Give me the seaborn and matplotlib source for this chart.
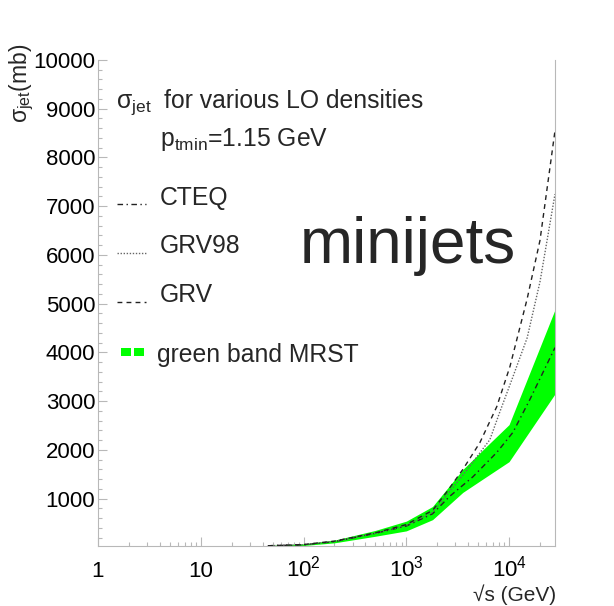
import matplotlib
matplotlib.use("Agg")
import matplotlib.pyplot as plt
import matplotlib.ticker as mticker
from matplotlib.lines import Line2D
from matplotlib.patches import Rectangle
import seaborn as sns
import pandas as pd

# ---------------- data ----------------
sqrt_s_band = [45, 100, 200, 500, 1000, 1800, 3550, 6000, 10000, 28000]
mrst_upper = [40, 75, 150, 350, 540, 840, 1600, 2070, 2520, 4880]
mrst_lower = [30, 40, 95, 230, 340, 570, 1130, 1450, 1760, 3150]

cteq_s = [45, 100, 200, 500, 1000, 1800, 2650, 4450, 7600, 10900, 15900, 28000]
cteq = [35, 55, 120, 290, 440, 690, 1050, 1450, 1950, 2360, 3030, 4100]

grv_s = [45, 100, 200, 500, 1000, 1800, 2460, 3550, 5200, 7600, 10200, 15000, 20000, 28000]
grv = [35, 60, 130, 300, 470, 760, 1130, 1600, 2150, 2890, 3710, 5100, 6300, 8550]

grv98_s = [45, 100, 200, 500, 1000, 1800, 3550, 6500, 8100, 10900, 15000, 20000, 28000]
grv98 = [35, 55, 125, 290, 450, 720, 1480, 2210, 2770, 3500, 4300, 5450, 7250]

series_names = ["CTEQ", "GRV98", "GRV"]
band_label = "green band MRST"

xtick_values = [1, 10, 100, 1000, 10000]
xtick_labels = ["1", "10", r"$\mathregular{10^{2}}$", r"$\mathregular{10^{3}}$",
                r"$\mathregular{10^{4}}$"]
ytick_values = [1000, 2000, 3000, 4000, 5000, 6000, 7000, 8000, 9000, 10000]
ytick_labels = [str(v) for v in ytick_values]

title_line1 = "for various LO densities"
title_sigma = r"σ$_{\mathregular{jet}}$"
title_line2 = r"p$_{\mathregular{tmin}}$=1.15 GeV"
big_label = "minijets"
ylabel = r"σ$_{\mathregular{jet}}$(mb)"
xlabel = "√s (GeV)"

# ---------------- style ----------------
sns.set_style("ticks")
plt.rcParams["font.family"] = ["Liberation Sans", "DejaVu Sans"]
plt.rcParams["mathtext.fontset"] = "custom"
plt.rcParams["mathtext.rm"] = "Liberation Sans"
plt.rcParams["mathtext.it"] = "Liberation Sans"
plt.rcParams["mathtext.bf"] = "Liberation Sans:bold"

W, H = 614, 606
fig = plt.figure(figsize=(W / 100, H / 100), dpi=100)
fig.patch.set_facecolor("white")

def fx(px):
    return px / W

def fy(py):
    return 1 - py / H

ax = fig.add_axes([fx(98), fy(546), (555 - 98) / W, (546 - 60) / H])
ax.set_facecolor("white")

frame_col = "#b8b8b8"

# band
ax.fill_between(sqrt_s_band, mrst_lower, mrst_upper, color="#00ff00", lw=0, zorder=2)

# lines via seaborn
df = pd.concat([
    pd.DataFrame({"sqrt_s": cteq_s, "sigma": cteq, "pdf": "CTEQ"}),
    pd.DataFrame({"sqrt_s": grv98_s, "sigma": grv98, "pdf": "GRV98"}),
    pd.DataFrame({"sqrt_s": grv_s, "sigma": grv, "pdf": "GRV"}),
], ignore_index=True)

dash_map = {"CTEQ": (4, 2.5, 1, 2.5), "GRV98": (1, 1.2), "GRV": (3.5, 3)}
color_map = {"CTEQ": "#222222", "GRV98": "#666666", "GRV": "#222222"}
sns.lineplot(data=df, x="sqrt_s", y="sigma", hue="pdf", style="pdf",
             palette=color_map, dashes=dash_map, lw=1.0, legend=False,
             ax=ax, zorder=3, sort=False, estimator=None)

ax.set_xscale("log")
ax.set_xlim(1, 28000)
ax.set_ylim(30, 10000)
ax.set_xlabel("")
ax.set_ylabel("")

ax.xaxis.set_major_locator(mticker.FixedLocator(xtick_values))
ax.xaxis.set_major_formatter(mticker.FixedFormatter(xtick_labels))
ax.xaxis.set_minor_locator(mticker.LogLocator(base=10, subs=range(2, 10), numticks=20))
ax.xaxis.set_minor_formatter(mticker.NullFormatter())
ax.yaxis.set_major_locator(mticker.FixedLocator(ytick_values))
ax.yaxis.set_major_formatter(mticker.FixedFormatter(ytick_labels))
ax.yaxis.set_minor_locator(mticker.MultipleLocator(200))

ax.tick_params(axis="both", which="both", direction="in", color=frame_col,
               width=0.8, labelcolor="black", labelsize=16)
ax.tick_params(axis="both", which="major", length=6.5)
ax.tick_params(axis="both", which="minor", length=3.2)
ax.tick_params(axis="x", which="major", pad=22)
ax.tick_params(axis="y", which="major", pad=2)
for t in ax.xaxis.get_major_ticks():
    t.label1.set_verticalalignment("baseline")

for side in ["left", "bottom", "right"]:
    ax.spines[side].set_color(frame_col)
    ax.spines[side].set_linewidth(0.8)
    ax.spines[side].set_visible(True)
ax.spines["top"].set_visible(False)

# ---------------- texts ----------------
fs = 17.8
fig.text(fx(116), fy(108), title_sigma, fontsize=fs, va="baseline", ha="left")
fig.text(fx(164), fy(108), title_line1, fontsize=fs, va="baseline", ha="left")
fig.text(fx(160), fy(146), title_line2, fontsize=fs, va="baseline", ha="left")

# legend (keys + labels)
key_y = {"CTEQ": 204, "GRV98": 253, "GRV": 302}
lab_y = {"CTEQ": 205, "GRV98": 253, "GRV": 302}
for name in series_names:
    ln = Line2D([fx(117), fx(146)], [fy(key_y[name]), fy(key_y[name])],
                transform=fig.transFigure, color=color_map[name], lw=1.0)
    ln.set_dashes(dash_map[name])
    fig.add_artist(ln)
    fig.text(fx(160), fy(lab_y[name]), name, fontsize=fs, va="baseline", ha="left")

for x0 in (121, 134):
    fig.add_artist(Rectangle((fx(x0), fy(356)), 10 / W, 8 / H,
                             transform=fig.transFigure, color="#00ff00", lw=0))
fig.text(fx(157), fy(362), band_label, fontsize=fs, va="baseline", ha="left")

fig.text(fx(300), fy(263), big_label, fontsize=46, va="baseline", ha="left")

# axis titles
fig.text(fx(22), fy(44), ylabel, fontsize=16.5, rotation=90, va="top", ha="center")
fig.text(fx(556), fy(601), xlabel, fontsize=15, va="baseline", ha="right")

fig.savefig("out.png", dpi=100, facecolor="white")
